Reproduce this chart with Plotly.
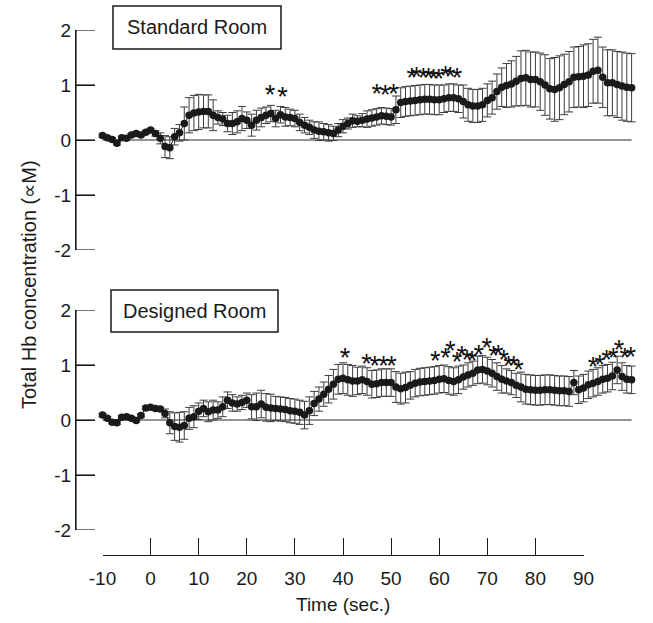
import plotly.graph_objects as go

W, H = 653, 623

# ---------------- data ----------------
time_s = list(range(-10, 101))

standard_mean = [
    0.08, 0.04, 0.01, -0.06, 0.04, 0.03, 0.09, 0.12, 0.09, 0.14,   # -10..-1
    0.18, 0.12, 0.03, -0.12, -0.14, 0.06, 0.13, 0.30, 0.45, 0.49,  # 0..9
    0.51, 0.52, 0.52, 0.45, 0.41, 0.38, 0.30, 0.30, 0.33, 0.39,    # 10..19
    0.36, 0.27, 0.36, 0.41, 0.45, 0.48, 0.39, 0.46, 0.42, 0.41,    # 20..29
    0.39, 0.32, 0.27, 0.23, 0.18, 0.16, 0.15, 0.13, 0.12, 0.18,    # 30..39
    0.25, 0.30, 0.35, 0.34, 0.36, 0.38, 0.40, 0.42, 0.44, 0.43,    # 40..49
    0.42, 0.55, 0.68, 0.70, 0.71, 0.72, 0.73, 0.74, 0.74, 0.73,    # 50..59
    0.73, 0.75, 0.77, 0.77, 0.75, 0.70, 0.64, 0.62, 0.62, 0.64,    # 60..69
    0.72, 0.77, 0.88, 0.96, 0.99, 1.02, 1.07, 1.12, 1.13, 1.10,    # 70..79
    1.10, 1.06, 1.00, 0.93, 0.92, 0.95, 1.01, 1.06, 1.14, 1.15,    # 80..89
    1.16, 1.18, 1.25, 1.27, 1.14, 1.04, 1.04, 1.01, 0.98, 0.96,    # 90..99
    0.95,                                                          # 100
]
standard_err = [
    0.03, 0.03, 0.03, 0.03, 0.03, 0.03, 0.03, 0.03, 0.03, 0.03,
    0.03, 0.05, 0.10, 0.20, 0.20, 0.15, 0.15, 0.30, 0.32, 0.32,
    0.32, 0.30, 0.30, 0.28, 0.12, 0.12, 0.15, 0.20, 0.20, 0.22,
    0.15, 0.20, 0.18, 0.17, 0.15, 0.15, 0.15, 0.15, 0.17, 0.15,
    0.15, 0.15, 0.14, 0.13, 0.15, 0.17, 0.15, 0.15, 0.13, 0.12,
    0.12, 0.10, 0.12, 0.10, 0.12, 0.15, 0.15, 0.15, 0.15, 0.15,
    0.15, 0.25, 0.27, 0.27, 0.27, 0.27, 0.27, 0.27, 0.27, 0.27,
    0.27, 0.25, 0.25, 0.25, 0.25, 0.30, 0.30, 0.30, 0.30, 0.30,
    0.30, 0.30, 0.32, 0.35, 0.40, 0.42, 0.45, 0.50, 0.50, 0.50,
    0.50, 0.52, 0.55, 0.55, 0.58, 0.58, 0.55, 0.55, 0.55, 0.55,
    0.57, 0.57, 0.58, 0.60, 0.55, 0.60, 0.60, 0.60, 0.62, 0.62,
    0.62,
]

designed_mean = [
    0.09, 0.03, -0.04, -0.05, 0.05, 0.06, 0.03, -0.01, 0.08, 0.22,  # -10..-1
    0.23, 0.21, 0.20, 0.12, -0.05, -0.12, -0.13, -0.10, 0.03, 0.06, # 0..9
    0.16, 0.21, 0.15, 0.18, 0.18, 0.24, 0.36, 0.31, 0.29, 0.32,     # 10..19
    0.36, 0.24, 0.24, 0.29, 0.23, 0.22, 0.21, 0.20, 0.19, 0.17,     # 20..29
    0.16, 0.14, 0.09, 0.17, 0.30, 0.38, 0.47, 0.56, 0.65, 0.74,     # 30..39
    0.76, 0.73, 0.71, 0.71, 0.73, 0.70, 0.65, 0.66, 0.68, 0.68,     # 40..49
    0.68, 0.60, 0.57, 0.59, 0.63, 0.67, 0.69, 0.70, 0.71, 0.72,     # 50..59
    0.74, 0.75, 0.72, 0.70, 0.73, 0.78, 0.82, 0.85, 0.91, 0.92,     # 60..69
    0.89, 0.85, 0.79, 0.74, 0.71, 0.68, 0.63, 0.60, 0.56, 0.55,     # 70..79
    0.54, 0.54, 0.55, 0.55, 0.54, 0.53, 0.53, 0.52, 0.68, 0.55,     # 80..89
    0.58, 0.64, 0.67, 0.70, 0.74, 0.76, 0.80, 0.91, 0.79, 0.74,     # 90..99
    0.73,                                                           # 100
]
designed_err = [
    0.03, 0.03, 0.03, 0.03, 0.03, 0.03, 0.03, 0.03, 0.03, 0.03,
    0.03, 0.03, 0.03, 0.08, 0.20, 0.25, 0.27, 0.25, 0.20, 0.20,
    0.15, 0.15, 0.18, 0.18, 0.15, 0.18, 0.15, 0.15, 0.13, 0.13,
    0.13, 0.22, 0.25, 0.25, 0.25, 0.25, 0.22, 0.22, 0.22, 0.22,
    0.22, 0.22, 0.25, 0.25, 0.22, 0.22, 0.22, 0.25, 0.27, 0.27,
    0.28, 0.28, 0.28, 0.25, 0.25, 0.25, 0.25, 0.25, 0.25, 0.25,
    0.25, 0.28, 0.28, 0.28, 0.25, 0.25, 0.25, 0.25, 0.25, 0.25,
    0.25, 0.25, 0.25, 0.25, 0.25, 0.22, 0.22, 0.22, 0.25, 0.25,
    0.25, 0.25, 0.25, 0.25, 0.22, 0.22, 0.22, 0.27, 0.27, 0.27,
    0.27, 0.27, 0.27, 0.27, 0.27, 0.27, 0.27, 0.27, 0.22, 0.25,
    0.25, 0.25, 0.25, 0.25, 0.25, 0.25, 0.25, 0.25, 0.25, 0.25,
    0.25,
]

# significance markers (time, level of the asterisk centre)
standard_star_t = [24.8, 27.4, 47.0, 48.8, 50.5, 54.3, 55.3, 56.7, 57.8,
                   58.8, 59.9, 61.3, 62.3, 63.7]
standard_star_v = [0.87, 0.85, 0.90, 0.88, 0.90, 1.18, 1.20, 1.18, 1.18,
                   1.16, 1.16, 1.22, 1.20, 1.18]
designed_star_t = [40.4, 44.9, 46.6, 48.4, 50.1, 59.2, 61.3, 62.3, 63.7,
                   64.7, 65.8, 66.8, 68.2, 69.9, 71.3, 72.3, 73.4, 74.4,
                   75.5, 76.5, 92.0, 93.4, 94.8, 96.2, 97.4, 98.6, 99.8]
designed_star_v = [1.18, 1.08, 1.04, 1.05, 1.05, 1.13, 1.18, 1.31, 1.11,
                   1.22, 1.15, 1.13, 1.24, 1.36, 1.22, 1.24, 1.15, 1.05,
                   1.05, 0.96, 1.03, 1.06, 1.15, 1.18, 1.33, 1.18, 1.20]

x_ticks = list(range(-10, 91, 10))
x_tick_labels = [str(v) for v in x_ticks]
y_ticks = [-2, -1, 0, 1, 2]
y_tick_labels = [str(v) for v in y_ticks]
panel_names = ["Standard Room", "Designed Room"]
x_title = "Time (sec.)"
y_title = "Total Hb concentration (\u221dM)"

# ---------------- layout helpers ----------------
FONT = "Liberation Sans, Arial, sans-serif"
INK = "#1a1a1a"
ML, MR, MT, MB = 40, 5, 20, 20          # outer margins in px
PW, PH = W - ML - MR, H - MT - MB        # plot-area size


def fx(p):
    """figure pixel (from left) -> paper fraction"""
    return (p - ML) / PW


def fy(p):
    """figure pixel (from top) -> paper fraction"""
    return 1 - (p - MT) / PH


T0_PX, T1_PX = 102.5, 583.5   # pixel of t=-10 and t=90


def t_at(px):
    return -10 + (px - T0_PX) * 100.0 / (T1_PX - T0_PX)


panel_x_px = (76, 645)
panel_y_px = [(30, 250), (310, 530)]
box_px = [(113, 6, 281, 49), (111, 290, 278, 332)]
STAR_SHIFT = 0.10
Y_TICK_LEN = 19

fig = go.Figure()

series = [(standard_mean, standard_err, standard_star_t, standard_star_v),
          (designed_mean, designed_err, designed_star_t, designed_star_v)]

for i, (mean, err, st, sv) in enumerate(series):
    xa = "x" if i == 0 else "x2"
    ya = "y" if i == 0 else "y2"
    fig.add_trace(go.Scatter(
        x=time_s, y=mean, xaxis=xa, yaxis=ya, mode="lines+markers",
        line=dict(color=INK, width=1),
        marker=dict(color=INK, size=7.5),
        error_y=dict(type="data", array=err, visible=True, color="#3c3c3c",
                     thickness=1, width=4),
        showlegend=False, hoverinfo="skip"))
    fig.add_trace(go.Scatter(
        x=st, y=[v - STAR_SHIFT for v in sv], xaxis=xa, yaxis=ya,
        mode="text", text=["*"] * len(st),
        textfont=dict(family=FONT, size=27, color="#111"),
        textposition="middle center", showlegend=False, hoverinfo="skip",
        cliponaxis=False))
    fig.add_shape(type="line", xref=xa, yref=ya, x0=time_s[0], x1=time_s[-1],
                  y0=0, y1=0, line=dict(color="#707070", width=1.5),
                  layer="below")
    # y-axis spine and inward ticks of this panel (on the panel's y scale)
    fig.add_shape(type="line", xref="paper", yref=ya,
                  x0=fx(panel_x_px[0]), x1=fx(panel_x_px[0]),
                  y0=y_ticks[0], y1=y_ticks[-1],
                  line=dict(color=INK, width=1.2))
    for v in y_ticks:
        fig.add_shape(type="line", xref="paper", yref=ya,
                      x0=fx(panel_x_px[0]), x1=fx(panel_x_px[0] + Y_TICK_LEN),
                      y0=v, y1=v, line=dict(color=INK, width=1.2))
    x0, y0, x1, y1 = box_px[i]
    fig.add_shape(type="rect", xref="paper", yref="paper",
                  x0=fx(x0), x1=fx(x1), y0=fy(y1), y1=fy(y0),
                  line=dict(color=INK, width=1.5), fillcolor="white")
    fig.add_annotation(xref="paper", yref="paper", x=fx((x0 + x1) / 2),
                       y=fy((y0 + y1) / 2), text=panel_names[i],
                       showarrow=False, xanchor="center", yanchor="middle",
                       font=dict(family=FONT, size=20, color=INK))

# dummy trace to carry the shared time axis
fig.add_trace(go.Scatter(x=[-10, 90], y=[0, 0], xaxis="x3", yaxis="y3",
                         mode="markers", marker=dict(opacity=0),
                         showlegend=False, hoverinfo="skip"))

yax = dict(range=[-2, 2], tickmode="array", tickvals=y_ticks,
           ticktext=y_tick_labels,
           showline=True, linecolor=INK, linewidth=1.2, ticks="inside",
           ticklen=Y_TICK_LEN, tickwidth=1.2, tickcolor=INK, showgrid=False,
           zeroline=False, mirror=False,
           tickfont=dict(family=FONT, size=19, color=INK))
xpanel = dict(range=[t_at(panel_x_px[0]), t_at(panel_x_px[1])],
              domain=[fx(panel_x_px[0]), fx(panel_x_px[1])],
              showline=False, showticklabels=False, ticks="",
              showgrid=False, zeroline=False)

fig.update_layout(
    width=W, height=H,
    margin=dict(l=ML, r=MR, t=MT, b=MB, pad=0, autoexpand=False),
    paper_bgcolor="white", plot_bgcolor="white",
    xaxis=dict(xpanel, anchor="y"),
    xaxis2=dict(xpanel, anchor="y2"),
    yaxis=dict(yax, domain=[fy(panel_y_px[0][1]), fy(panel_y_px[0][0])],
               anchor="x"),
    yaxis2=dict(yax, domain=[fy(panel_y_px[1][1]), fy(panel_y_px[1][0])],
                anchor="x2"),
    xaxis3=dict(range=[-10, 90], domain=[fx(T0_PX), fx(T1_PX)],
                anchor="free", position=fy(555), tickvals=x_ticks,
                ticktext=x_tick_labels,
                showline=True, linecolor=INK, linewidth=1.2, ticks="inside",
                ticklen=17, tickwidth=1.2, tickcolor=INK, showgrid=False,
                zeroline=False, ticklabelstandoff=6,
                tickfont=dict(family=FONT, size=19, color=INK)),
    yaxis3=dict(domain=[fy(560), fy(556)], visible=False, anchor="x3"),
    showlegend=False,
)

fig.add_annotation(xref="paper", yref="paper", x=fx((T0_PX + T1_PX) / 2),
                   y=fy(604), text=x_title, showarrow=False,
                   xanchor="center", yanchor="middle",
                   font=dict(family=FONT, size=19, color=INK))
fig.add_annotation(xref="paper", yref="paper", x=fx(29), y=fy(285),
                   text=y_title, textangle=-90, showarrow=False,
                   xanchor="center", yanchor="middle",
                   font=dict(family=FONT, size=20, color=INK))

fig.write_html("out.html")
